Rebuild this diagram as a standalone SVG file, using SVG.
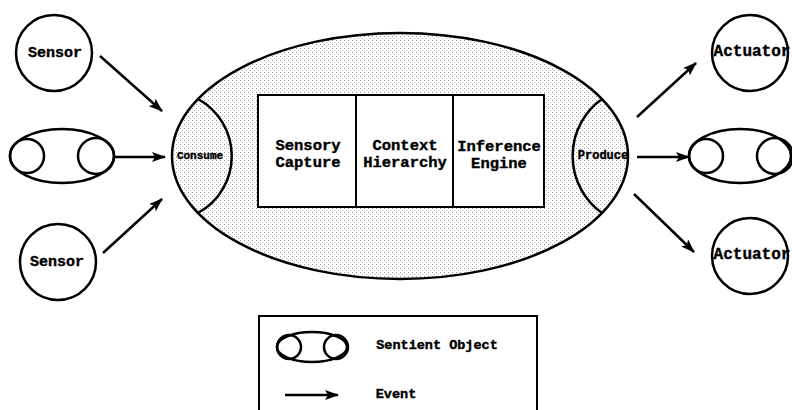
<svg xmlns="http://www.w3.org/2000/svg" width="792" height="410" viewBox="0 0 792 410">
<defs>
<pattern id="dots" width="4" height="4" patternUnits="userSpaceOnUse">
<rect width="4" height="4" fill="#ffffff"/>
<rect x="0" y="0" width="1" height="1" fill="#999"/>
<rect x="2" y="2" width="1" height="1" fill="#bbb"/>
</pattern>
<marker id="arr" viewBox="0 0 14 10" refX="13" refY="5" markerWidth="14" markerHeight="10" markerUnits="userSpaceOnUse" orient="auto">
<path d="M0,0 L14,5 L0,10 L3,5 Z" fill="#000"/>
</marker>
</defs>
<style>
.ln{fill:none;stroke:#000;stroke-width:2.5}
.wf{fill:#fff;stroke:#000;stroke-width:2.5}
.box{fill:#fff;stroke:#000;stroke-width:2}
.t{font-family:"Liberation Mono","Courier New",monospace;font-weight:bold;fill:#000;stroke:#000;stroke-width:0.4;text-anchor:middle;dominant-baseline:central}
.e{stroke:#000;stroke-width:2.5;fill:none;marker-end:url(#arr)}
</style>
<rect width="792" height="410" fill="#fff"/>

<g id="connectors">
<line class="e" x1="100" y1="56" x2="162" y2="111"/>
<line class="e" x1="115" y1="157" x2="165" y2="157"/>
<line class="e" x1="103" y1="253" x2="162" y2="199"/>
<line class="e" x1="637" y1="117" x2="696" y2="63"/>
<line class="e" x1="637" y1="157" x2="689" y2="157"/>
<line class="e" x1="634" y1="194" x2="694" y2="252"/>
</g>

<g id="sensor-top">
<circle class="wf" cx="54" cy="53" r="38"/>
<text class="t" x="55" y="53" font-size="15">Sensor</text>
</g>
<g id="sentient-left">
<ellipse class="wf" cx="62" cy="156" rx="52" ry="27"/>
<circle class="ln" cx="27" cy="156" r="17"/>
<circle class="ln" cx="96" cy="156" r="18"/>
</g>
<g id="sensor-bottom">
<circle class="wf" cx="58" cy="262" r="38"/>
<text class="t" x="57" y="262" font-size="15">Sensor</text>
</g>

<g id="core">
<ellipse cx="400" cy="156" rx="228" ry="123" fill="url(#dots)" stroke="#000" stroke-width="2.5"/>
<path class="ln" d="M198,99 A65,65 0 0 1 198,213"/>
<path class="ln" d="M602,99 A70,70 0 0 0 602,213"/>
</g>
<g id="consume">
<text class="t" x="200" y="156" font-size="11">Consume</text>
</g>
<g id="produce">
<text class="t" x="603" y="156" font-size="12">Produce</text>
</g>
<g id="sensory-capture">
<rect class="box" x="258" y="95" width="98" height="112"/>
<text class="t" x="308" y="146" font-size="15.5">Sensory</text>
<text class="t" x="308" y="163" font-size="15.5">Capture</text>
</g>
<g id="context-hierarchy">
<rect class="box" x="356" y="95" width="97" height="112"/>
<text class="t" x="405" y="146" font-size="15.5">Context</text>
<text class="t" x="405" y="163" font-size="15.5">Hierarchy</text>
</g>
<g id="inference-engine">
<rect class="box" x="453" y="95" width="91" height="112"/>
<text class="t" x="499" y="147" font-size="15.5">Inference</text>
<text class="t" x="499" y="164" font-size="15.5">Engine</text>
</g>

<g id="actuator-top">
<circle class="wf" cx="750" cy="53" r="38"/>
<text class="t" x="752" y="52" font-size="16">Actuator</text>
</g>
<g id="sentient-right">
<ellipse class="wf" cx="740" cy="156" rx="51" ry="27"/>
<circle class="ln" cx="706" cy="156" r="17"/>
<circle class="ln" cx="775" cy="156" r="18"/>
</g>
<g id="actuator-bottom">
<circle class="wf" cx="750" cy="256" r="38"/>
<text class="t" x="752" y="255" font-size="16">Actuator</text>
</g>

<g id="legend">
<rect x="259" y="316" width="278" height="100" fill="#fff" stroke="#000" stroke-width="2"/>
<ellipse class="wf" cx="312" cy="347" rx="35" ry="15"/>
<circle class="ln" cx="289" cy="347" r="12"/>
<circle class="ln" cx="336" cy="347" r="12"/>
<text class="t" x="437" y="345" font-size="13.5">Sentient Object</text>
<line class="e" x1="285" y1="395" x2="338" y2="395"/>
<text class="t" x="396" y="394" font-size="13.5">Event</text>
</g>
</svg>
